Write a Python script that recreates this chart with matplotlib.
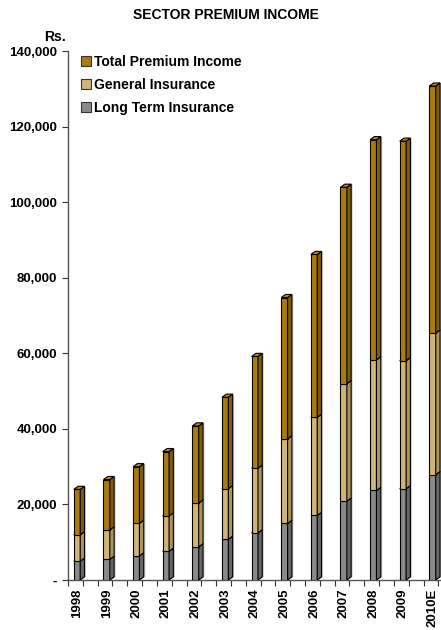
import matplotlib
matplotlib.use('Agg')
import matplotlib.pyplot as plt
from matplotlib import font_manager
from matplotlib.patches import Polygon, Patch
from matplotlib.ticker import FuncFormatter

years = ['1998', '1999', '2000', '2001', '2002', '2003', '2004',
         '2005', '2006', '2007', '2008', '2009', '2010E']
long_term = [5000, 5500, 6400, 7600, 8800, 10800, 12500,
             15000, 17100, 20900, 23700, 24200, 27900]
general = [7000, 7800, 8600, 9400, 11600, 13400, 17100,
           22400, 26000, 31100, 34600, 33900, 37500]
total = [12000, 13300, 15000, 17000, 20400, 24200, 29600,
         37400, 43100, 52000, 58300, 58100, 65400]

series = [
    ('Long Term Insurance', long_term, '#8a8a8a', '#666666', '#a0a0a0'),
    ('General Insurance', general, '#d1b477', '#ad945b', '#dcc48e'),
    ('Total Premium Income', total, '#a87b0c', '#805c09', '#b88b1e'),
]

names = {f.name for f in font_manager.fontManager.ttflist}
font = 'Liberation Sans' if 'Liberation Sans' in names else 'DejaVu Sans'
narrow = 'Liberation Sans Narrow' if 'Liberation Sans Narrow' in names else font
plt.rcParams['font.family'] = font
plt.rcParams['font.weight'] = 'bold'

fig = plt.figure(figsize=(4.41, 6.30), dpi=100)
ax = fig.add_axes([68/441, 50/630, 373/441, 528.7/630])

w = 0.215      # front face width
dx = 0.145     # depth offset, x
dy = 820       # depth offset, y
sh = 0.05      # shadow offset

x = list(range(len(years)))
bottom = [0] * len(years)
for label, vals, front, side, top in series:
    ax.bar(x, vals, width=w, bottom=bottom, color=front,
           edgecolor='black', linewidth=0.8, zorder=3)
    for i, v in enumerate(vals):
        b = bottom[i]
        xr = i + w / 2
        # soft shadow behind the side face
        ax.add_patch(Polygon([(xr, b), (xr + dx + sh, b + dy),
                              (xr + dx + sh, b + v + dy), (xr, b + v)],
                             closed=True, facecolor='#c8c8c8',
                             edgecolor='none', zorder=2))
        ax.add_patch(Polygon([(xr, b), (xr + dx, b + dy),
                              (xr + dx, b + v + dy), (xr, b + v)],
                             closed=True, facecolor=side,
                             edgecolor='black', linewidth=0.8, zorder=3))
        ax.add_patch(Polygon([(i - w / 2, b + v), (xr, b + v),
                              (xr + dx, b + v + dy), (i - w / 2 + dx, b + v + dy)],
                             closed=True, facecolor=top,
                             edgecolor='black', linewidth=0.8, zorder=3))
    bottom = [b + v for b, v in zip(bottom, vals)]

ax.set_xlim(-0.304, 12.285)
ax.set_ylim(0, 140000)

ax.set_yticks(range(0, 140001, 20000))
ax.yaxis.set_major_formatter(FuncFormatter(lambda v, p: '-' if v == 0 else f'{int(v):,}'))
ax.tick_params(axis='y', direction='out', length=4, width=0.8,
               pad=4, labelsize=9.5, color='#333333')

# tick marks between and under bars, labels at bar centres
ax.set_xticks([-0.304 + 0.5 * k for k in range(26)])
ax.set_xticklabels([])
ax.set_xticks(x, minor=True)
ax.set_xticklabels(years, minor=True, rotation=90, fontsize=9.5,
                   fontfamily=narrow, fontweight='bold')
ax.tick_params(axis='x', which='major', direction='out', length=4,
               width=0.8, color='#333333')
ax.tick_params(axis='x', which='minor', length=0, pad=6)

for s in ('top', 'right'):
    ax.spines[s].set_visible(False)
for s in ('left', 'bottom'):
    ax.spines[s].set_color('#555555')
    ax.spines[s].set_linewidth(1.0)

handles = [Patch(facecolor=c[2], edgecolor='#333333', linewidth=0.8, label=c[0])
           for c in reversed(series)]
ax.legend(handles=handles, loc='upper left', bbox_to_anchor=(81/441, 1 - 55/630),
          bbox_transform=fig.transFigure, frameon=False, fontsize=10,
          handlelength=0.75, handleheight=0.75, handletextpad=0.2,
          labelspacing=0.65, borderpad=0, borderaxespad=0)

fig.text(226/441, 1 - 15/630, 'SECTOR PREMIUM INCOME', ha='center',
         va='center', fontsize=10, fontweight='bold')
fig.text(66/441, 1 - 37/630, 'Rs.', ha='right', va='center',
         fontsize=10, fontweight='bold')

fig.savefig('out.png', dpi=100)
